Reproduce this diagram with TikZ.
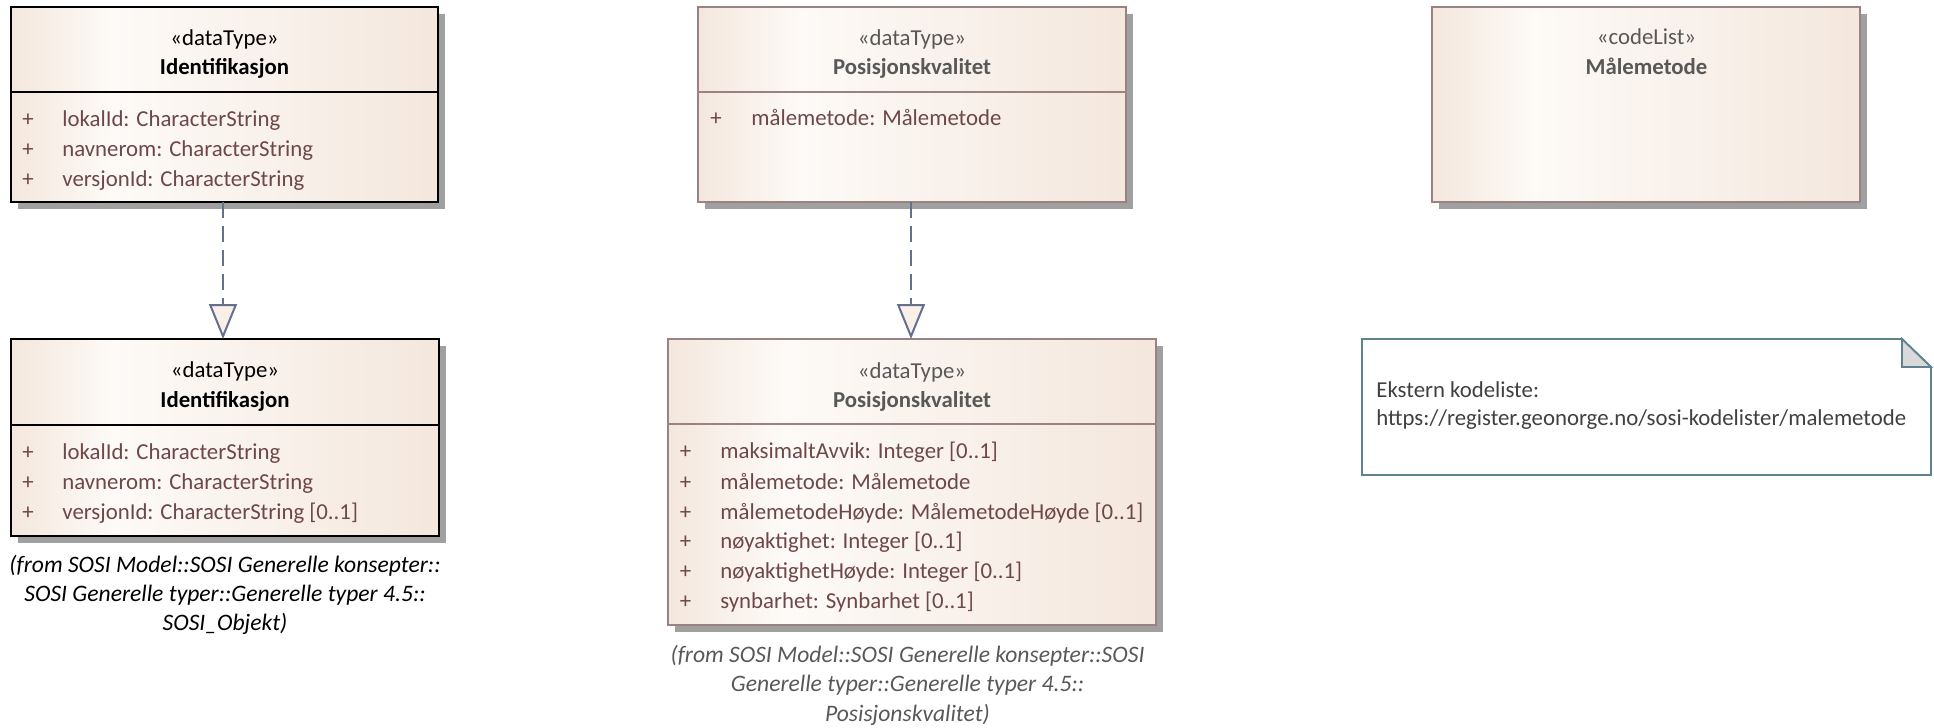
\documentclass[tikz,border=0pt]{standalone}
\usepackage{fontspec}
\setmainfont{Carlito}
\usetikzlibrary{arrows.meta,shadows}
\definecolor{umlbeige}{RGB}{244,231,221}
\definecolor{umlwhite}{RGB}{253,250,247}
\definecolor{attrcol}{RGB}{110,72,72}
\definecolor{graytxt}{RGB}{88,88,88}
\definecolor{notetext}{RGB}{64,64,64}
\definecolor{brownline}{RGB}{155,130,130}
\definecolor{linkcol}{RGB}{100,112,140}
\definecolor{notecol}{RGB}{95,130,145}
\definecolor{foldcol}{RGB}{217,217,217}
\definecolor{shadowcol}{RGB}{160,160,160}
\definecolor{trifill}{RGB}{248,239,232}
\pgfdeclarehorizontalshading{umlshade}{100bp}{color(0bp)=(umlbeige); color(25bp)=(umlbeige); color(37bp)=(umlwhite); color(75bp)=(umlbeige); color(100bp)=(umlbeige)}
\newcommand{\boxfont}{\fontsize{11.4pt}{13pt}\selectfont}
\newcommand{\capfont}{\fontsize{11.8pt}{13pt}\selectfont\itshape}
\begin{document}
\begin{tikzpicture}[x=0.5pt,y=-0.5pt,
  font=\boxfont,
  box/.style={anchor=north west, inner sep=0pt, outer sep=0pt, shade, shading=umlshade,
    drop shadow={shadow xshift=3.5pt, shadow yshift=-3.5pt, fill=shadowcol, opacity=1}},
  blackbox/.style={box, draw=black, line width=1pt},
  brownbox/.style={box, draw=brownline, line width=0.9pt},
  txt/.style={anchor=base, inner sep=0pt},
  title/.style={txt, font=\boxfont\bfseries},
  caption/.style={txt, font=\capfont},
  attr/.style={anchor=base west, inner sep=0pt, text=attrcol},
  plus/.style={anchor=base, inner sep=0pt, text=attrcol},
  notetxt/.style={anchor=base west, inner sep=0pt, text=notetext, font=\fontsize{11.4pt}{13pt}\selectfont},
  realize/.style={draw=linkcol, line width=1pt, dash pattern=on 8pt off 4pt,
    -{Triangle[length=17.5pt, width=14pt, fill=trifill, line width=1pt]}},
]
\useasboundingbox (0,0) rectangle (1934,728);

% ---- Box 1
\node[blackbox, minimum width=213.5pt, minimum height=97.5pt] (b1) at (11,7) {};
\draw[line width=1pt] (b1.west |- 0,92) -- (b1.east |- 0,92);
\node[txt] (b1s) at (224.5,46) {«dataType»};
\node[title] (b1n) at (224.5,75) {Identifikasjon};
\node[plus] (b1p1) at (28,126) {+};
\node[attr] (b1a1) at (62,126) {lokalId: CharacterString};
\node[plus] (b1p2) at (28,156) {+};
\node[attr] (b1a2) at (62,156) {navnerom: CharacterString};
\node[plus] (b1p3) at (28,186) {+};
\node[attr] (b1a3) at (62,186) {versjonId: CharacterString};

% ---- Box 2
\node[blackbox, minimum width=214pt, minimum height=98.5pt] (b2) at (11,339) {};
\draw[line width=1pt] (b2.west |- 0,425) -- (b2.east |- 0,425);
\node[txt] (b2s) at (225,377) {«dataType»};
\node[title] (b2n) at (225,407) {Identifikasjon};
\node[plus] (b2p1) at (28,459) {+};
\node[attr] (b2a1) at (62,459) {lokalId: CharacterString};
\node[plus] (b2p2) at (28,489) {+};
\node[attr] (b2a2) at (62,489) {navnerom: CharacterString};
\node[plus] (b2p3) at (28,519) {+};
\node[attr] (b2a3) at (62,519) {versjonId: CharacterString [0..1]};
\node[caption] (b2c1) at (225,572) {(from SOSI Model::SOSI Generelle konsepter::};
\node[caption] (b2c2) at (225,601) {SOSI Generelle typer::Generelle typer 4.5::};
\node[caption] (b2c3) at (225,630) {SOSI\_Objekt)};

% ---- Box 3
\node[brownbox, minimum width=214pt, minimum height=97.5pt] (b3) at (698,7) {};
\draw[brownline, line width=0.9pt] (b3.west |- 0,92) -- (b3.east |- 0,92);
\node[txt, text=graytxt] (b3s) at (912,46) {«dataType»};
\node[title, text=graytxt] (b3n) at (912,75) {Posisjonskvalitet};
\node[plus] (b3p1) at (716,125) {+};
\node[attr] (b3a1) at (751,125) {målemetode: Målemetode};

% ---- Box 4
\node[brownbox, minimum width=244pt, minimum height=143pt] (b4) at (668,339) {};
\draw[brownline, line width=0.9pt] (b4.west |- 0,424) -- (b4.east |- 0,424);
\node[txt, text=graytxt] (b4s) at (912,378) {«dataType»};
\node[title, text=graytxt] (b4n) at (912,407) {Posisjonskvalitet};
\node[plus] (b4p1) at (685.5,458) {+};
\node[attr] (b4a1) at (720,458) {maksimaltAvvik: Integer [0..1]};
\node[plus] (b4p2) at (685.5,489) {+};
\node[attr] (b4a2) at (720,489) {målemetode: Målemetode};
\node[plus] (b4p3) at (685.5,519) {+};
\node[attr] (b4a3) at (720,519) {målemetodeHøyde: MålemetodeHøyde [0..1]};
\node[plus] (b4p4) at (685.5,548) {+};
\node[attr] (b4a4) at (720,548) {nøyaktighet: Integer [0..1]};
\node[plus] (b4p5) at (685.5,578) {+};
\node[attr] (b4a5) at (720,578) {nøyaktighetHøyde: Integer [0..1]};
\node[plus] (b4p6) at (685.5,608) {+};
\node[attr] (b4a6) at (720,608) {synbarhet: Synbarhet [0..1]};
\node[caption, text=graytxt] (b4c1) at (907.5,662) {(from SOSI Model::SOSI Generelle konsepter::SOSI};
\node[caption, text=graytxt] (b4c2) at (907.5,691) {Generelle typer::Generelle typer 4.5::};
\node[caption, text=graytxt] (b4c3) at (907.5,721) {Posisjonskvalitet)};

% ---- Box 5
\node[brownbox, minimum width=214pt, minimum height=97.5pt] (b5) at (1432,7) {};
\node[txt, text=graytxt] (b5s) at (1646.5,45) {«codeList»};
\node[title, text=graytxt] (b5n) at (1646.5,75) {Målemetode};

% ---- Note
\draw[notecol, line width=0.9pt, fill=white] (1362,339) -- (1902,339) -- (1931,367) -- (1931,475) -- (1362,475) -- cycle;
\draw[notecol, line width=0.9pt, fill=foldcol] (1902,339) -- (1902,367) -- (1931,367) -- cycle;
\node[notetxt] (n1) at (1376,397) {Ekstern kodeliste:};
\node[notetxt] (n2) at (1376,425) {https://register.geonorge.no/sosi-kodelister/malemetode};

% ---- Connectors
\coordinate (r1s) at (223,202);
\coordinate (r2s) at (911,202);
\draw[realize] (r1s) -- (r1s |- b2.north);
\draw[realize] (r2s) -- (r2s |- b4.north);
\end{tikzpicture}
\end{document}
